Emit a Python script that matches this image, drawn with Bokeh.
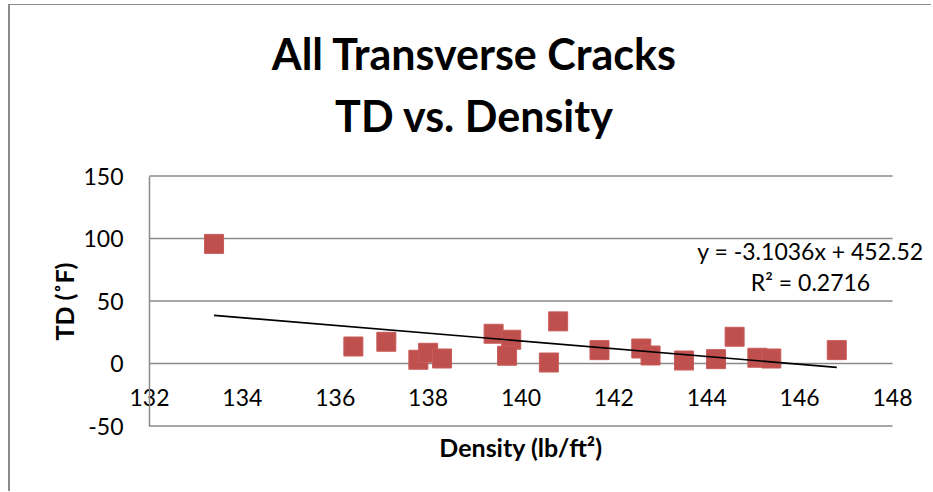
from bokeh.plotting import figure
from bokeh.models import Label, FixedTicker, Range1d
from bokeh.embed import file_html
from bokeh.resources import INLINE

# ---- data ----
density = [133.39, 136.39, 137.10, 137.79, 138.00, 138.30, 139.41, 139.79, 139.70, 140.60,
           140.80, 141.69, 142.59, 142.79, 143.51, 144.20, 144.60, 145.09, 145.39, 146.80]
td = [95.7, 13.6, 17.4, 3.0, 8.6, 4.0, 23.8, 19.0, 6.2, 0.8,
      33.7, 10.7, 12.0, 6.4, 2.4, 3.5, 21.4, 4.6, 4.0, 10.7]
trend_slope = -3.1036
trend_intercept = 452.52
equation_text = "y = -3.1036x + 452.52"
r2_text = "R² = 0.2716"
x_ticks = [132, 134, 136, 138, 140, 142, 144, 146, 148]
y_ticks = [-50, 0, 50, 100, 150]
title_lines = ["All Transverse Cracks", "TD vs. Density"]
x_label = "Density (lb/ft²)"
y_label = "TD (˚F)"

# ---- layout (pixels on the canvas) ----
W, H = 923, 487
PLOT_L, PLOT_R = 139, 882      # canvas x of x_ticks[0] / x_ticks[-1]
PLOT_T, PLOT_B = 170.5, 420.5  # canvas y of y_ticks[-1] / y_ticks[0]

FONT = "Lato"
GRID = "#8a8a8a"
RED = "#C0504D"

xmin, xmax = x_ticks[0], x_ticks[-1]
ymin, ymax = y_ticks[0], y_ticks[-1]
xs = (PLOT_R - PLOT_L) / (xmax - xmin)
ys = (PLOT_B - PLOT_T) / (ymax - ymin)
x_range = Range1d(xmin - PLOT_L / xs, xmax + (W - PLOT_R) / xs)
y_range = Range1d(ymin - (H - PLOT_B) / ys, ymax + PLOT_T / ys)

p = figure(width=W, height=H, output_backend="svg", toolbar_location=None,
           x_range=x_range, y_range=y_range,
           min_border_left=0, min_border_right=0, min_border_top=0, min_border_bottom=0)
p.styles = {"margin-left": "8px", "margin-top": "4px",
            "border-top": "1px solid #8a8a8a", "border-left": "2px solid #8a8a8a"}
p.outline_line_color = None
p.background_fill_color = "white"
p.border_fill_color = "white"

# grid (horizontal lines only across the plot area)
p.xgrid.visible = False
p.ygrid.visible = False
p.segment(x0=[xmin] * len(y_ticks), x1=[xmax] * len(y_ticks), y0=y_ticks, y1=y_ticks,
          line_color=GRID, line_width=1.5)

# y axis at x = 132
yax = p.yaxis[0]
yax.fixed_location = xmin
yax.bounds = (ymin, ymax)
yax.ticker = FixedTicker(ticks=y_ticks)
yax.major_label_overrides = {t: str(t) for t in y_ticks}
yax.axis_line_color = GRID
yax.axis_line_width = 1.5
yax.major_tick_out = 0
yax.major_tick_in = 0
yax.minor_tick_out = 0
yax.minor_tick_in = 0
yax.major_label_standoff = 26
yax.major_label_text_font = FONT
yax.major_label_text_font_size = "23px"
yax.major_label_text_color = "black"
yax.axis_label = y_label
yax.axis_label_text_font = FONT
yax.axis_label_text_font_style = "bold"
yax.axis_label_text_font_size = "25px"
yax.axis_label_text_color = "black"
yax.axis_label_standoff = 1

# x axis crossing at y = 0
xax = p.xaxis[0]
xax.fixed_location = 0
xax.bounds = (xmin, xmax)
xax.ticker = FixedTicker(ticks=x_ticks)
xax.axis_line_color = None
xax.major_tick_out = 0
xax.major_tick_in = 0
xax.minor_tick_out = 0
xax.minor_tick_in = 0
xax.major_label_standoff = 25
xax.major_label_text_font = FONT
xax.major_label_text_font_size = "23px"
xax.major_label_text_color = "black"
xax.axis_label = x_label
xax.axis_label_text_font = FONT
xax.axis_label_text_font_style = "bold"
xax.axis_label_text_font_size = "25px"
xax.axis_label_text_color = "black"
xax.axis_label_standoff = 23

# data
p.scatter(density, td, marker="square", size=19, fill_color=RED, line_color="#C75C59", line_width=1)

x0, x1 = min(density), max(density)
p.line([x0, x1], [trend_slope * x0 + trend_intercept, trend_slope * x1 + trend_intercept],
       line_color="black", line_width=1.6)

# chart title (screen units: from the frame's bottom-left, y upwards)
for txt, yy in zip(title_lines, [439, 377]):
    p.add_layout(Label(x=464, y=yy, x_units="screen", y_units="screen", text=txt,
                       text_align="center", text_baseline="alphabetic", text_font=FONT,
                       text_font_style="bold", text_font_size="43px", text_color="black"))

# trendline label
for txt, yy in zip([equation_text, r2_text], [242, 211]):
    p.add_layout(Label(x=800, y=yy, x_units="screen", y_units="screen", text=txt,
                       text_align="center", text_baseline="middle", text_font=FONT,
                       text_font_size="23px", text_color="black"))

open("out.html", "w").write(file_html(p, INLINE))
